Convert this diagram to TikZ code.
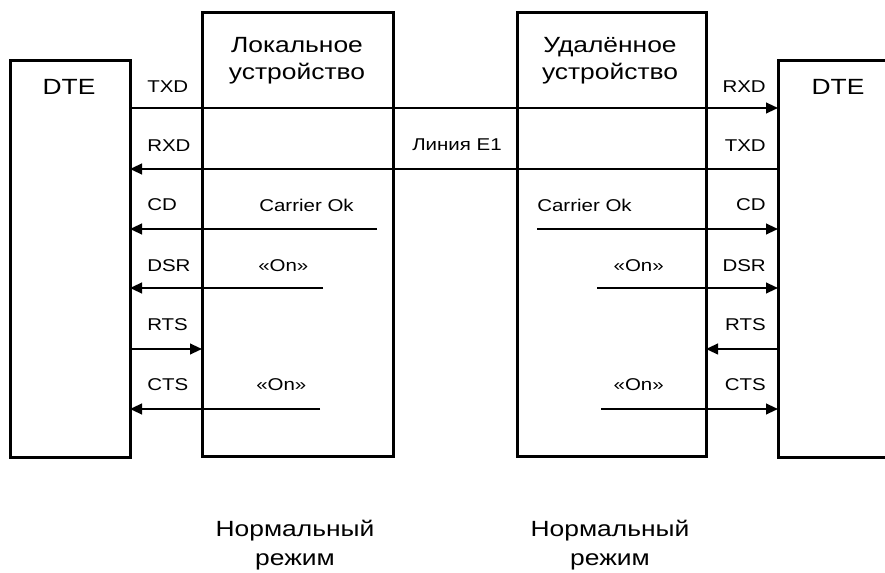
\documentclass[tikz,border=0pt]{standalone}
\usepackage{fontspec}
\setmainfont[FakeStretch=1.2]{Liberation Sans}
\usetikzlibrary{arrows.meta}

\tikzset{every picture/.style={x=0.75pt,y=-0.75pt}}
\tikzset{unit box/.style={draw,line width=2.25pt,outer sep=0pt,inner sep=0pt}}
\tikzset{signal/.style={line width=1.5pt,-{Triangle[length=9pt,width=8pt]}}}
\tikzset{pin label/.style={font=\fontsize{12.8}{15}\selectfont,inner sep=0pt}}
\tikzset{big label/.style={font=\fontsize{16.5}{20}\selectfont,align=center,inner sep=0pt}}
\tikzset{mode label/.style={font=\fontsize{16.5}{22}\selectfont,align=center,inner sep=0pt}}

\begin{document}
\begin{tikzpicture}
        \useasboundingbox (0,0) rectangle (885,573);
        \node[unit box,minimum width=90pt,minimum height=297pt] (ldte) at (70,259) {};
        \node[unit box,minimum width=143.25pt,minimum height=332.25pt] (loc) at (297.5,234.5) {};
        \node[unit box,minimum width=141.75pt,minimum height=332.25pt] (rem) at (611.5,234.5) {};
        \node[outer sep=0pt,inner sep=0pt,minimum width=84pt,minimum height=297pt] (rdte) at (834,259) {};
        \draw[line width=2.25pt] (rdte.north east) -- (rdte.north west) -- (rdte.south west) -- (rdte.south east);

        \coordinate (txd) at (0,108);
        \coordinate (rxd) at (0,169);
        \coordinate (cd) at (0,229);
        \coordinate (dsr) at (0,288);
        \coordinate (rts) at (0,349);
        \coordinate (cts) at (0,409);
        \coordinate (lcd) at (377,229);
        \coordinate (ldsr) at (323,288);
        \coordinate (lcts) at (320,409);
        \coordinate (rcd) at (537,229);
        \coordinate (rdsr) at (597,288);
        \coordinate (rcts) at (601,409);

        \draw[signal] (ldte.east |- txd) -- (rdte.west |- txd);
        \draw[signal] (rdte.west |- rxd) -- (ldte.east |- rxd);
        \draw[signal] (lcd) -- (ldte.east |- lcd);
        \draw[signal] (ldsr) -- (ldte.east |- ldsr);
        \draw[signal] (ldte.east |- rts) -- (loc.west |- rts);
        \draw[signal] (lcts) -- (ldte.east |- lcts);
        \draw[signal] (rcd) -- (rdte.west |- rcd);
        \draw[signal] (rdsr) -- (rdte.west |- rdsr);
        \draw[signal] (rdte.west |- rts) -- (rem.east |- rts);
        \draw[signal] (rcts) -- (rdte.west |- rcts);

        \node[big label] (ldtename) at (69,87) {DTE};
        \node[big label] (rdtename) at (838,87) {DTE};
        \node[big label] (locname) at (297,61) {Локальное\\устройство};
        \node[big label] (remname) at (610,61) {Удалённое\\устройство};
        \node[mode label] (locmode) at (295,545) {Нормальный\\режим};
        \node[mode label] (remmode) at (610,545) {Нормальный\\режим};
        \node[pin label] (line) at (457,145) {Линия E1};

        \node[pin label,anchor=west] (ltxd) at (147,87) {TXD};
        \node[pin label,anchor=west] (lrxd) at (147,146) {RXD};
        \node[pin label,anchor=west] (lcdname) at (147,205) {CD};
        \node[pin label,anchor=west] (ldsrname) at (147,266) {DSR};
        \node[pin label,anchor=west] (lrts) at (147,325) {RTS};
        \node[pin label,anchor=west] (lctsname) at (147,385) {CTS};
        \node[pin label,anchor=east] (rrxd) at (766,87) {RXD};
        \node[pin label,anchor=east] (rtxd) at (766,146) {TXD};
        \node[pin label,anchor=east] (rcdname) at (766,205) {CD};
        \node[pin label,anchor=east] (rdsrname) at (766,266) {DSR};
        \node[pin label,anchor=east] (rrts) at (766,325) {RTS};
        \node[pin label,anchor=east] (rctsname) at (766,385) {CTS};

        \node[pin label,anchor=west] (lcarrier) at (259,205) {Carrier Ok};
        \node[pin label,anchor=west] (ldsron) at (258,266) {«On»};
        \node[pin label,anchor=west] (lctson) at (256,385) {«On»};
        \node[pin label,anchor=west] (rcarrier) at (537,205) {Carrier Ok};
        \node[pin label,anchor=east] (rdsron) at (664,266) {«On»};
        \node[pin label,anchor=east] (rctson) at (664,385) {«On»};
    \end{tikzpicture}
\end{document}
